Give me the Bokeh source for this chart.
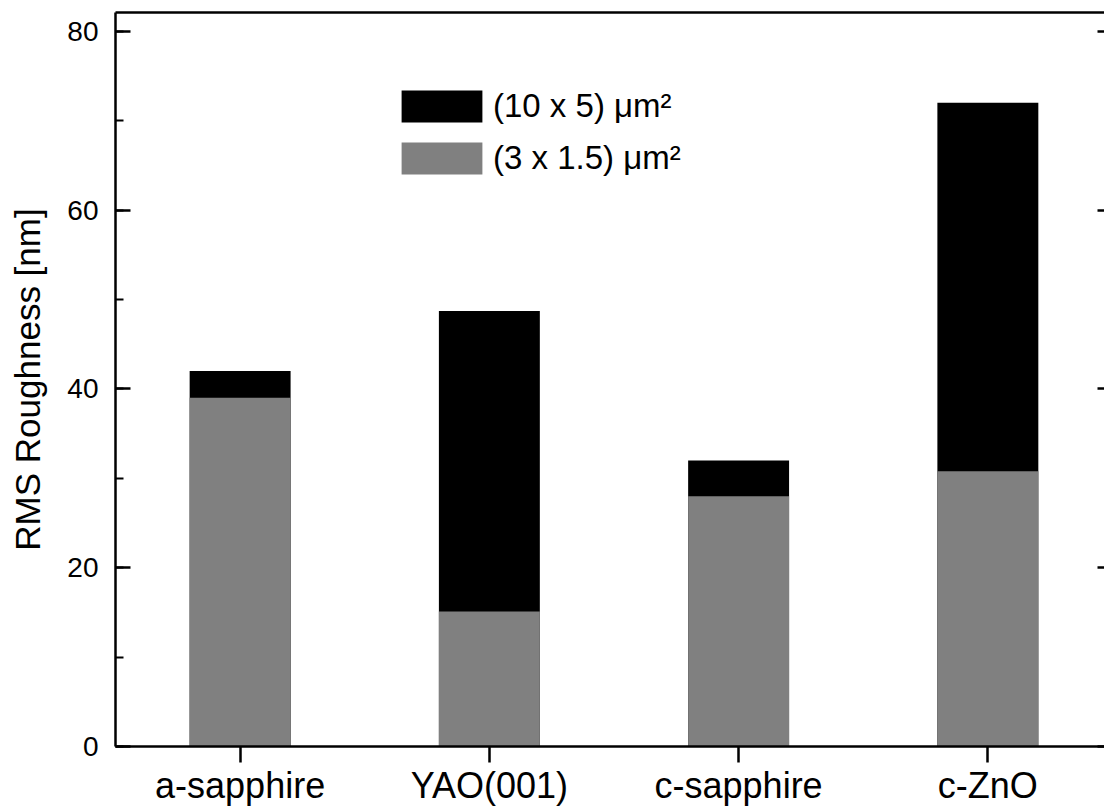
from bokeh.plotting import figure
from bokeh.models import (LinearAxis, SingleIntervalTicker, FixedTicker, Range1d,
                          Legend, LegendItem, ColumnDataSource, CustomJSTickFormatter)
from bokeh.embed import file_html
from bokeh.resources import INLINE

# RMS roughness of the films on each substrate, for two AFM scan areas
substrates = ["a-sapphire", "YAO(001)", "c-sapphire", "c-ZnO"]
rms_10x5 = [42.0, 48.7, 32.0, 72.0]     # (10 x 5) um^2 scans
rms_3x1_5 = [39.0, 15.1, 28.0, 30.8]    # (3 x 1.5) um^2 scans
y_ticks = [0, 20, 40, 60, 80]

FONT = "Liberation Sans"

positions = [i + 1 for i in range(len(substrates))]
src = ColumnDataSource(dict(x=positions, big=rms_10x5, small=rms_3x1_5))

p = figure(width=1104, height=808, output_backend="svg", toolbar_location=None,
           x_range=Range1d(0.5, 4.468), y_range=Range1d(0, 82.1),
           min_border_left=115, min_border_right=0, min_border_top=12,
           min_border_bottom=62)
p.xgrid.visible = False
p.ygrid.visible = False
p.outline_line_color = None
p.background_fill_color = "white"
p.border_fill_color = "white"

# bars: the larger scan area behind, the smaller one in front
r_big = p.vbar(x="x", top="big", width=0.405, source=src,
               fill_color="#000000", line_color=None)
r_small = p.vbar(x="x", top="small", width=0.405, source=src,
                 fill_color="#808080", line_color=None)

# bottom axis with substrate names
xa = p.xaxis[0]
xa.ticker = FixedTicker(ticks=positions)
xa.major_label_overrides = {pos: name for pos, name in zip(positions, substrates)}
xa.major_label_text_font = FONT
xa.major_label_text_font_size = "36px"
xa.major_label_text_color = "black"
xa.major_label_standoff = 2
xa.major_tick_out = 16
xa.major_tick_in = 0
xa.minor_tick_out = 0
xa.minor_tick_in = 0
xa.axis_line_width = 2.5
xa.major_tick_line_width = 2.5
xa.axis_line_color = "black"

# left axis
ya = p.yaxis[0]
ya.ticker = SingleIntervalTicker(interval=20, num_minor_ticks=2)
ya.axis_label = "RMS Roughness [nm]"
ya.axis_label_text_font = FONT
ya.axis_label_text_font_size = "35px"
ya.axis_label_text_font_style = "normal"
ya.axis_label_text_color = "black"
ya.axis_label_standoff = 17
ya.major_label_text_font = FONT
ya.major_label_text_font_size = "28px"
ya.major_label_text_color = "black"
ya.major_label_standoff = 17
ya.major_tick_in = 15
ya.major_tick_out = 0
ya.minor_tick_in = 8
ya.minor_tick_out = 0
ya.axis_line_width = 2.5
ya.major_tick_line_width = 2.5
ya.minor_tick_line_width = 2
ya.axis_line_color = "black"

# frame: top edge line and unlabelled right-hand ticks
top = LinearAxis(ticker=FixedTicker(ticks=[]), major_label_standoff=0,
                 major_tick_in=0, major_tick_out=0, minor_tick_in=0, minor_tick_out=0,
                 axis_line_width=2.5)
p.add_layout(top, "above")
right = LinearAxis(ticker=SingleIntervalTicker(interval=20, num_minor_ticks=0),
                   formatter=CustomJSTickFormatter(code="return ''"),
                   major_label_text_color=None, major_label_standoff=0,
                   major_tick_in=7, major_tick_out=0, minor_tick_in=0, minor_tick_out=0,
                   major_tick_line_width=2.5, axis_line_color=None)
p.add_layout(right, "right")

legend = Legend(items=[LegendItem(label="(10 x 5) μm²", renderers=[r_big]),
                       LegendItem(label="(3 x 1.5) μm²", renderers=[r_small])],
                location=(276, 568), orientation="vertical",
                glyph_width=101, glyph_height=40, label_standoff=1, spacing=12,
                padding=0, margin=0, border_line_color=None,
                background_fill_alpha=0, label_text_font=FONT,
                label_text_font_size="33px", label_text_color="black",
                label_height=40)
p.add_layout(legend)

open("out.html", "w").write(file_html(p, INLINE))
